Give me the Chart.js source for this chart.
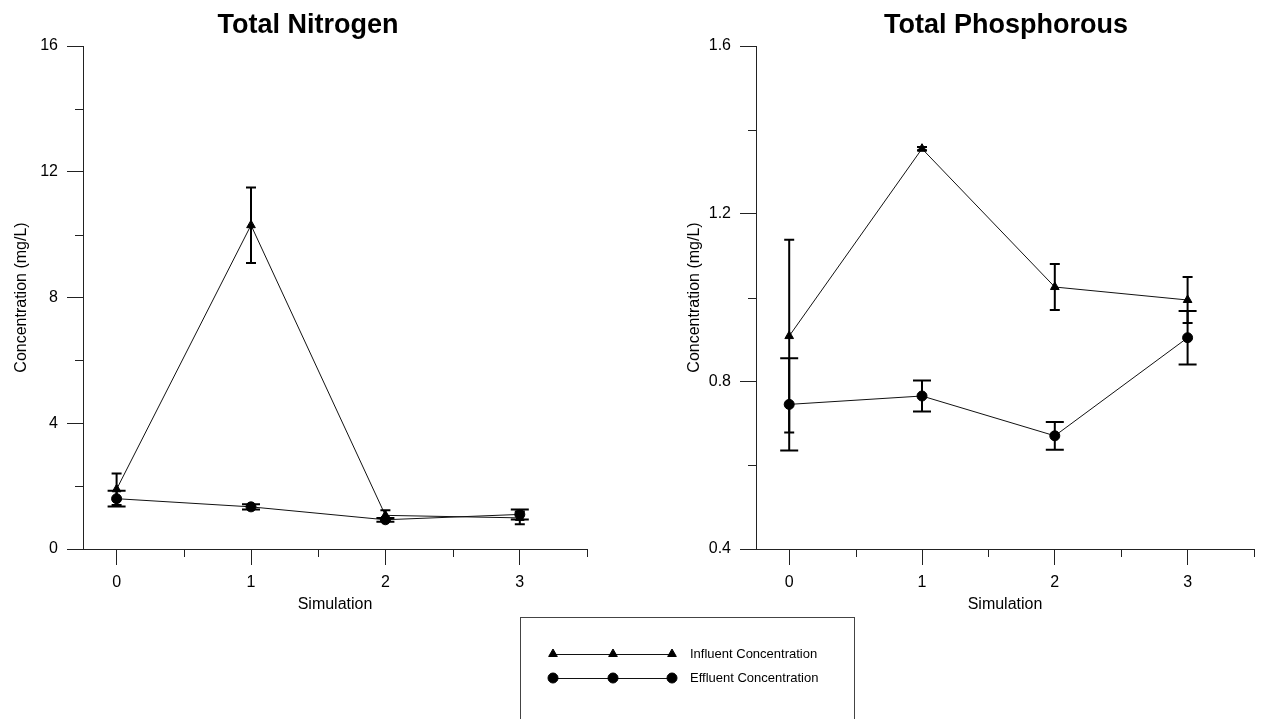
<!DOCTYPE html>
<html>
<head>
<meta charset="utf-8">
<script src="https://cdn.jsdelivr.net/npm/chart.js@4.4.1/dist/chart.umd.min.js"></script>
<style>
  body { margin: 0; background: #fff; }
  #wrap { position: relative; width: 1262px; height: 719px; }
  #wrap canvas { position: absolute; left: 0; top: 0; }
</style>
</head>
<body>
<div id="wrap">
  <canvas id="chart-n" width="1262" height="719"></canvas>
  <canvas id="chart-p" width="1262" height="719"></canvas>
</div>
<script>
// data
const simulations = [0, 1, 2, 3];
const xTickValues = [0, 0.5, 1, 1.5, 2, 2.5, 3, 3.5];

const nitrogenInfluent = [1.9, 10.3, 1.07, 0.99];
const nitrogenInfluentErr = [0.5, 1.2, 0.16, 0.2];
const nitrogenEffluent = [1.6, 1.34, 0.93, 1.1];
const nitrogenEffluentErr = [0.25, 0.08, 0.06, 0.16];

const phosInfluent = [0.908, 1.355, 1.025, 0.994];
const phosInfluentErr = [0.23, 0.004, 0.055, 0.055];
const phosEffluent = [0.745, 0.765, 0.67, 0.904];
const phosEffluentErr = [0.11, 0.037, 0.033, 0.064];

const nitrogenTicks = [0, 4, 8, 12, 16];
const phosTicks = [0.4, 0.8, 1.2, 1.6];

const seriesNames = ['Influent Concentration', 'Effluent Concentration'];

Chart.defaults.font.family = '"Liberation Sans", Arial, sans-serif';
Chart.defaults.color = '#000';

const axisColor = '#222';
const clear = 'rgba(0,0,0,0)';

const near = (a, b) => Math.abs(a - b) < 1e-6;

const errorBars = {
  id: 'errorBars',
  afterDatasetsDraw(chart) {
    const ctx = chart.ctx;
    const y = chart.scales.y;
    ctx.save();
    ctx.strokeStyle = '#000';
    ctx.lineWidth = 2;
    chart.data.datasets.forEach((ds, i) => {
      if (!ds.errors) return;
      chart.getDatasetMeta(i).data.forEach((pt, j) => {
        const v = ds.data[j].y, e = ds.errors[j];
        const top = y.getPixelForValue(v + e), bot = y.getPixelForValue(v - e);
        const w = ds.capHalf;
        ctx.beginPath();
        ctx.moveTo(pt.x, top); ctx.lineTo(pt.x, bot);
        ctx.moveTo(pt.x - w, top); ctx.lineTo(pt.x + w, top);
        ctx.moveTo(pt.x - w, bot); ctx.lineTo(pt.x + w, bot);
        ctx.stroke();
      });
    });
    ctx.restore();
  }
};

const minorTicks = {
  id: 'minorTicks',
  afterDraw(chart) {
    const ctx = chart.ctx;
    const {x, y} = chart.scales;
    ctx.save();
    ctx.strokeStyle = axisColor;
    ctx.lineWidth = 1;
    ctx.beginPath();
    x.ticks.forEach(t => {
      if (!Number.isInteger(t.value)) {
        const px = Math.round(x.getPixelForValue(t.value)) + 0.5;
        ctx.moveTo(px, x.top); ctx.lineTo(px, x.top + 8);
      }
    });
    const majors = chart.options.plugins.minorTicks.yMajor;
    y.ticks.forEach(t => {
      if (!majors.some(m => near(m, t.value))) {
        const py = Math.round(y.getPixelForValue(t.value)) + 0.5;
        ctx.moveTo(y.right - 8, py); ctx.lineTo(y.right, py);
      }
    });
    ctx.stroke();
    ctx.restore();
  }
};

const panelTitle = {
  id: 'panelTitle',
  afterDraw(chart, args, opts) {
    const ctx = chart.ctx;
    ctx.save();
    ctx.font = 'bold 27px "Liberation Sans", Arial, sans-serif';
    ctx.fillStyle = '#000';
    ctx.textAlign = 'center';
    ctx.textBaseline = 'alphabetic';
    ctx.fillText(opts.text, opts.x, 33);
    ctx.restore();
  }
};

const legendBox = {
  id: 'legendBox',
  afterDraw(chart, args, opts) {
    if (!opts.show) return;
    const ctx = chart.ctx;
    ctx.save();
    ctx.strokeStyle = '#444';
    ctx.lineWidth = 1;
    ctx.strokeRect(520.5, 617.5, 334, 200);
    const rows = [654, 678];
    chart.data.datasets.forEach((ds, i) => {
      const ry = rows[i];
      ctx.strokeStyle = '#111';
      ctx.lineWidth = 1;
      ctx.beginPath();
      ctx.moveTo(553, ry + 0.5); ctx.lineTo(672, ry + 0.5);
      ctx.stroke();
      ctx.fillStyle = '#000';
      ctx.strokeStyle = '#000';
      [553, 613, 672].forEach(mx => {
        Chart.helpers.drawPoint(ctx, {pointStyle: ds.pointStyle, radius: ds.pointRadius, rotation: 0, borderWidth: 1}, mx, ry);
      });
      ctx.font = '13px "Liberation Sans", Arial, sans-serif';
      ctx.textAlign = 'left';
      ctx.textBaseline = 'middle';
      ctx.fillText(ds.label, 690, ry);
    });
    ctx.restore();
  }
};

function series(values, errs, idx) {
  return {
    label: seriesNames[idx],
    data: simulations.map((s, i) => ({x: s, y: values[i]})),
    errors: errs,
    capHalf: idx === 0 ? 5 : 9,
    borderColor: '#111',
    borderWidth: 1,
    pointStyle: idx === 0 ? 'triangle' : 'circle',
    pointRadius: 5,
    pointBackgroundColor: '#000',
    pointBorderColor: '#000',
    pointBorderWidth: 1,
    tension: 0
  };
}

function makePanel(id, opts) {
  const isMajor = v => opts.yTicks.some(m => near(m, v));
  return new Chart(document.getElementById(id), {
    type: 'line',
    data: {
      datasets: [
        series(opts.influent, opts.influentErr, 0),
        series(opts.effluent, opts.effluentErr, 1)
      ]
    },
    options: {
      responsive: false,
      animation: false,
      events: [],
      layout: { padding: opts.padding },
      scales: {
        x: {
          type: 'linear', min: -0.25, max: 3.5,
          afterBuildTicks: s => { s.ticks = xTickValues.map(v => ({ value: v })); },
          afterFit: s => { s.height = 70; },
          border: { color: axisColor, width: 1 },
          grid: {
            drawOnChartArea: false, tickLength: 16, tickWidth: 1,
            tickColor: c => Number.isInteger(c.tick.value) ? axisColor : clear
          },
          ticks: {
            padding: 8, autoSkip: false, maxRotation: 0,
            font: { size: 16 },
            callback: v => simulations.includes(v) ? String(v) : ''
          },
          title: { display: true, text: 'Simulation', font: { size: 16 }, padding: { top: 0, bottom: 5 } }
        },
        y: {
          min: opts.yTicks[0], max: opts.yTicks[opts.yTicks.length - 1],
          afterFit: s => { s.width = 83; },
          border: { color: axisColor, width: 1 },
          grid: {
            drawOnChartArea: false, tickLength: 16, tickWidth: 1,
            tickColor: c => isMajor(c.tick.value) ? axisColor : clear
          },
          ticks: {
            stepSize: opts.yStep, padding: 9, autoSkip: false,
            font: { size: 16 },
            callback: v => isMajor(v) ? opts.fmt(v) : ''
          },
          title: { display: true, text: 'Concentration (mg/L)', font: { size: 16 }, padding: { top: 12, bottom: 0 } }
        }
      },
      plugins: {
        legend: { display: false },
        tooltip: { enabled: false },
        minorTicks: { yMajor: opts.yTicks },
        panelTitle: { text: opts.title, x: opts.titleX },
        legendBox: { show: !!opts.legend }
      }
    },
    plugins: [errorBars, minorTicks, panelTitle, legendBox]
  });
}

makePanel('chart-n', {
  title: 'Total Nitrogen', titleX: 308,
  influent: nitrogenInfluent, influentErr: nitrogenInfluentErr,
  effluent: nitrogenEffluent, effluentErr: nitrogenEffluentErr,
  yTicks: nitrogenTicks, yStep: 2, fmt: v => String(Math.round(v)),
  padding: { left: 0, top: 46, right: 675, bottom: 100 }
});

makePanel('chart-p', {
  title: 'Total Phosphorous', titleX: 1006,
  influent: phosInfluent, influentErr: phosInfluentErr,
  effluent: phosEffluent, effluentErr: phosEffluentErr,
  yTicks: phosTicks, yStep: 0.2, fmt: v => v.toFixed(1),
  padding: { left: 673, top: 46, right: 3, bottom: 100 },
  legend: true
});
</script>
</body>
</html>
